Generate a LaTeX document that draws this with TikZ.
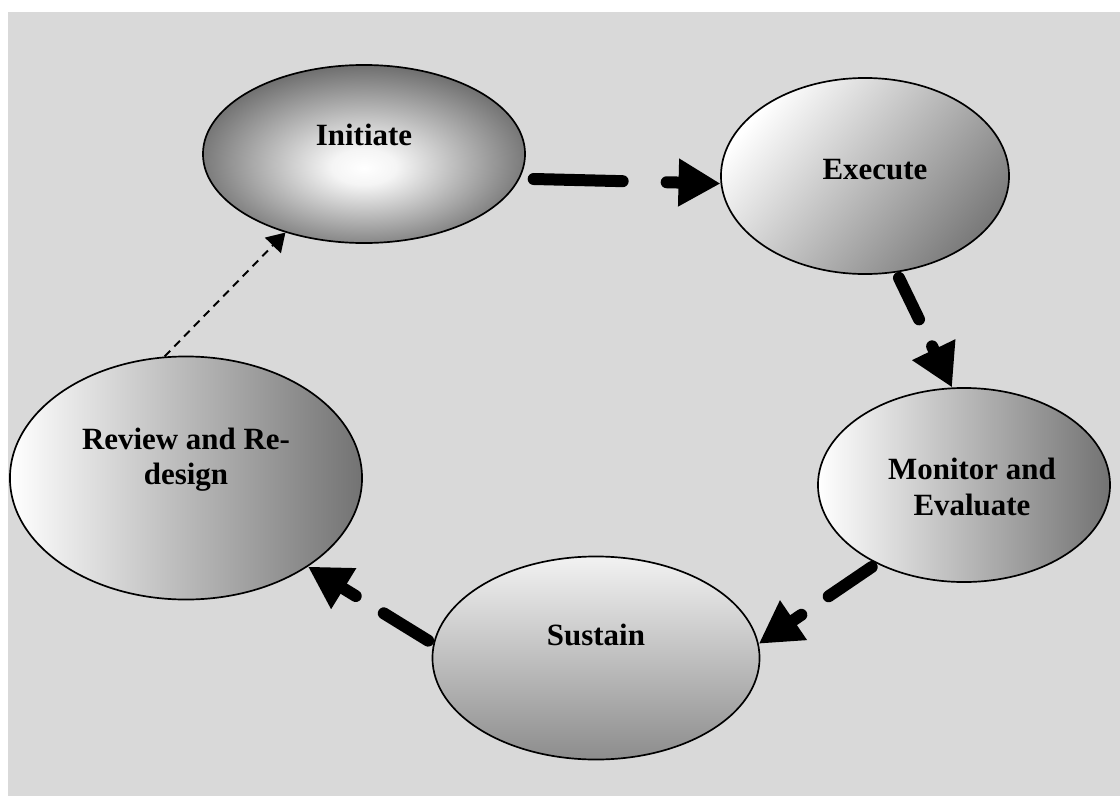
\documentclass[tikz,border=0pt]{standalone}
\usepackage{fontspec}
\setmainfont{Liberation Serif}
\usetikzlibrary{arrows.meta,shapes.geometric}
\definecolor{panel}{RGB}{217,217,217}
\pgfdeclareradialshading{glow}{\pgfpoint{0bp}{-4bp}}{color(0bp)=(white); color(5bp)=(white!96!black);
  color(27bp)=(black!57); color(50bp)=(black!57)}
\tikzset{
  blob/.style={draw,ellipse,line width=1.2pt,inner sep=0pt},
  txt/.style={font=\bfseries\fontsize{22}{25}\selectfont,align=center,inner sep=0pt},
  flow/.style={line width=0.3cm,line cap=round,dash pattern=on 1.3cm off 0.825cm,
    -{Triangle[length=1.05cm,width=1.125cm]}},
  back/.style={line width=1.4pt,dash pattern=on 0.2cm off 0.15cm,
    -{Triangle[length=0.45cm,width=0.55cm]}}
}
\begin{document}
\begin{tikzpicture}[x=0.025cm,y=-0.025cm]
  \useasboundingbox (0,0) rectangle (1120,796);
  \fill[panel] (8,12) rectangle (1120,796);
  % stages
  \node [blob,minimum width=8.05cm,minimum height=4.45cm,shading=glow] (ini) at (364,154) {};
  \node [blob,minimum width=7.2cm,minimum height=4.9cm,top color=white,bottom color=black!52,shading angle=50] (exe) at (865,176) {};
  \node [blob,minimum width=7.3cm,minimum height=4.85cm,left color=white,right color=black!55] (mon) at (964,485) {};
  \node [blob,minimum width=8.175cm,minimum height=5.075cm,top color=white!95!black,bottom color=black!45] (sus) at (596,658) {};
  \node [blob,minimum width=8.8cm,minimum height=6.075cm,left color=white,right color=black!55] (rev) at (186,478) {};
  % labels
  \node [txt] (iniT) at (364,135) {Initiate};
  \node [txt] (exeT) at (875,170) {Execute};
  \node [txt] (monT) at (972,487) {Monitor and\\Evaluate};
  \node [txt] (susT) at (596,635) {Sustain};
  \node [txt] (revT) at (186,460) {Review and Re-\\design};
  % cycle
  \draw [flow,dash pattern=on 2.225cm off 1.1cm,shorten <=0.35cm] (ini.-9) -- (exe.183);
  \draw [flow,dash pattern=on 1.15cm off 0.75cm,shorten <=0.15cm] (exe.-72) -- (mon.97);
  \draw [flow,shorten <=0.15cm] (mon.222) -- (sus.5);
  \draw [flow,shorten <=0.15cm] (sus.175) -- (rev.-36);
  \draw [back] (rev.100) -- (ini.225);
\end{tikzpicture}
\end{document}
